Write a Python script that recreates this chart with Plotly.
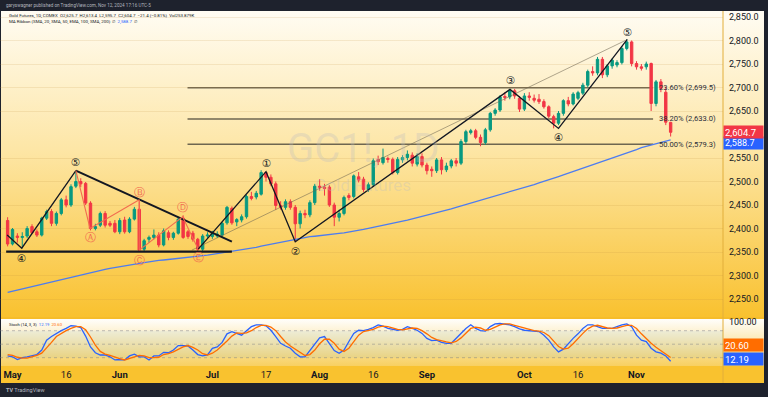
import base64
import pandas as pd
import plotly.graph_objects as go

# ---------------- data ----------------
holidays = ["2024-05-27", "2024-06-19", "2024-07-04", "2024-09-02"]
dates = [d.strftime("%Y-%m-%d") for d in pd.bdate_range("2024-04-30", "2024-11-12")
         if d.strftime("%Y-%m-%d") not in holidays]

opens = [2417, 2367, 2384, 2381, 2384, 2404, 2393, 2386, 2422, 2436,
         2411, 2432, 2461, 2450, 2490, 2500, 2496, 2454, 2400, 2407,
         2432, 2411, 2411, 2393, 2418, 2393, 2420, 2441, 2356, 2377,
         2381, 2386, 2365, 2391, 2381, 2390, 2422, 2393, 2390, 2377,
         2356, 2384, 2383, 2384, 2386, 2412, 2443, 2414, 2418, 2425,
         2468, 2467, 2473, 2519, 2509, 2495, 2449, 2445, 2457, 2445,
         2410, 2432, 2429, 2455, 2490, 2488, 2488, 2450, 2424, 2432,
         2470, 2468, 2510, 2505, 2483, 2493, 2547, 2540, 2549, 2547,
         2519, 2546, 2551, 2556, 2537, 2553, 2535, 2526, 2523, 2546,
         2525, 2533, 2544, 2539, 2585, 2604, 2608, 2594, 2583, 2610,
         2645, 2652, 2681, 2680, 2693, 2677, 2654, 2682, 2677, 2675,
         2670, 2659, 2638, 2624, 2645, 2672, 2665, 2677, 2688, 2705,
         2734, 2731, 2760, 2727, 2746, 2748, 2753, 2783, 2797, 2751,
         2744, 2744, 2751, 2666, 2712, 2690, 2625.7]
highs = [2424, 2401, 2390, 2392, 2405, 2409, 2398, 2425, 2440, 2441,
         2436, 2465, 2470, 2494, 2523, 2507, 2499, 2458, 2410, 2436,
         2437, 2416, 2418, 2422, 2425, 2424, 2446, 2458, 2378, 2385,
         2398, 2392, 2400, 2396, 2393, 2425, 2428, 2397, 2395, 2380,
         2388, 2392, 2395, 2394, 2414, 2448, 2447, 2422, 2430, 2472,
         2478, 2480, 2524, 2521, 2515, 2500, 2458, 2462, 2462, 2450,
         2438, 2440, 2460, 2495, 2505, 2495, 2492, 2455, 2440, 2470,
         2475, 2515, 2520, 2510, 2498, 2549, 2555, 2570, 2553, 2551,
         2552, 2556, 2566, 2562, 2560, 2560, 2540, 2532, 2550, 2552,
         2540, 2548, 2550, 2590, 2610, 2612, 2612, 2600, 2614, 2648,
         2656, 2684, 2690, 2697, 2697, 2682, 2688, 2690, 2685, 2686,
         2675, 2662, 2642, 2650, 2675, 2680, 2690, 2693, 2710, 2738,
         2745, 2765, 2765, 2750, 2762, 2758, 2788, 2802, 2800, 2756,
         2750, 2755, 2753, 2716, 2718, 2702, 2627]
lows = [2362, 2364, 2370, 2358, 2380, 2388, 2382, 2383, 2418, 2405,
        2406, 2428, 2445, 2446, 2486, 2488, 2450, 2396, 2396, 2403,
        2402, 2403, 2390, 2388, 2389, 2390, 2417, 2350, 2350, 2370,
        2377, 2360, 2362, 2375, 2376, 2387, 2378, 2378, 2372, 2352,
        2352, 2380, 2378, 2380, 2382, 2408, 2408, 2405, 2413, 2421,
        2460, 2462, 2470, 2500, 2490, 2440, 2440, 2440, 2440, 2372,
        2400, 2422, 2424, 2450, 2480, 2470, 2446, 2405, 2415, 2428,
        2460, 2464, 2498, 2478, 2478, 2489, 2535, 2536, 2540, 2515,
        2515, 2540, 2545, 2532, 2532, 2530, 2515, 2510, 2518, 2515,
        2520, 2528, 2532, 2535, 2580, 2600, 2590, 2575, 2578, 2606,
        2640, 2648, 2672, 2675, 2676, 2648, 2650, 2672, 2668, 2665,
        2655, 2635, 2613, 2620, 2640, 2660, 2662, 2673, 2684, 2700,
        2725, 2726, 2720, 2722, 2740, 2743, 2749, 2779, 2745, 2738,
        2736, 2738, 2650, 2660, 2690, 2620, 2595.7]
closes = [2367, 2398, 2381, 2383, 2400, 2391, 2386, 2422, 2436, 2411,
          2432, 2461, 2450, 2489, 2500, 2495, 2454, 2400, 2404, 2432,
          2407, 2407, 2393, 2417, 2393, 2420, 2441, 2354, 2374, 2381,
          2386, 2365, 2395, 2381, 2390, 2420, 2381, 2383, 2377, 2356,
          2384, 2386, 2390, 2388, 2411, 2445, 2412, 2419, 2425, 2468,
          2464, 2475, 2519, 2509, 2495, 2449, 2445, 2457, 2445, 2410,
          2432, 2429, 2455, 2490, 2488, 2485, 2450, 2424, 2432, 2466,
          2466, 2512, 2503, 2483, 2493, 2544, 2542, 2551, 2547, 2519,
          2547, 2551, 2558, 2539, 2553, 2535, 2523, 2523, 2546, 2525,
          2533, 2544, 2539, 2585, 2606, 2608, 2594, 2583, 2610, 2645,
          2652, 2680, 2679, 2693, 2682, 2654, 2682, 2679, 2673, 2670,
          2659, 2639, 2624, 2645, 2672, 2665, 2686, 2689, 2705, 2734,
          2731, 2760, 2727, 2746, 2758, 2753, 2783, 2797, 2751, 2744,
          2741, 2750, 2666, 2712, 2698, 2626.1, 2604.7]

ma200 = [2264, 2266.5, 2269, 2271.5, 2274, 2276.5, 2279, 2281.5, 2284, 2286.5,
         2289, 2291.5, 2294, 2296.5, 2299, 2301, 2303.5, 2306, 2308.5, 2311,
         2313, 2315, 2317, 2318.5, 2320.5, 2322, 2324, 2325.5, 2327.5, 2329,
         2331, 2332, 2333, 2334, 2335.5, 2336.5, 2337.5, 2338.5, 2339.5, 2341,
         2342, 2343.5, 2345, 2346.5, 2348, 2349.5, 2351, 2353, 2354.5, 2356,
         2358, 2360, 2362.5, 2364.5, 2367, 2369, 2371, 2373.5, 2375.5, 2378,
         2380, 2381, 2382.5, 2383.5, 2385, 2386, 2387, 2388, 2389.5, 2390.5,
         2392, 2394, 2396, 2398, 2400.5, 2402.5, 2404.5, 2406.5, 2408.5, 2411,
         2413, 2415.5, 2418, 2420.5, 2423, 2426, 2428.5, 2431, 2434, 2436.5,
         2439, 2442, 2445, 2448, 2451, 2454, 2457, 2459.5, 2462.5, 2465,
         2468, 2471, 2474.5, 2477.5, 2481, 2484, 2487, 2490.5, 2493.5, 2497,
         2500, 2503.5, 2507, 2510.5, 2514, 2517.5, 2521, 2524.5, 2528, 2531.5,
         2535, 2538.5, 2542, 2546, 2549.5, 2553, 2557, 2560.5, 2564, 2568,
         2572, 2575, 2578, 2581, 2583.5, 2586, 2588.7]

stoch_k = [24, 22, 16, 20, 22, 25, 27, 37, 59, 67,
           74, 80, 85, 91, 90, 87, 68, 44, 31, 26,
           26, 22, 15, 16, 15, 24, 28, 22, 22, 15,
           24, 24, 32, 31, 37, 47, 47, 46, 37, 27,
           24, 26, 41, 44, 54, 73, 78, 74, 70, 80,
           89, 93, 93, 91, 81, 67, 52, 46, 41, 30,
           22, 22, 36, 52, 64, 67, 52, 36, 30, 37,
           56, 74, 81, 80, 83, 87, 93, 90, 85, 83,
           81, 83, 89, 85, 81, 74, 63, 58, 59, 54,
           52, 52, 63, 76, 85, 93, 85, 80, 79, 89,
           95, 96, 95, 93, 89, 84, 81, 80, 80, 78,
           70, 59, 44, 33, 39, 52, 63, 73, 85, 93,
           93, 89, 85, 85, 85, 89, 93, 95, 89, 70,
           59, 56, 41, 33, 30, 24, 12.19]
stoch_d = [27, 25, 21, 19, 19, 22, 25, 30, 41, 54,
           67, 74, 80, 85, 89, 89, 82, 66, 48, 34,
           28, 25, 21, 18, 15, 18, 22, 25, 24, 20,
           20, 21, 27, 29, 33, 38, 44, 47, 43, 37,
           29, 26, 30, 37, 46, 57, 68, 75, 74, 75,
           80, 87, 92, 92, 88, 80, 67, 55, 46, 39,
           31, 25, 27, 37, 51, 61, 61, 52, 39, 34,
           41, 56, 70, 78, 81, 83, 88, 90, 89, 86,
           83, 82, 84, 86, 85, 80, 73, 65, 60, 57,
           55, 53, 56, 64, 75, 85, 88, 86, 81, 83,
           88, 93, 95, 95, 92, 89, 85, 82, 80, 79,
           76, 69, 58, 45, 39, 41, 51, 63, 74, 84,
           90, 92, 89, 86, 85, 86, 89, 92, 92, 85,
           73, 62, 52, 43, 35, 29, 20.6]

tick_idx = [1, 12, 23, 42, 53, 64, 75, 86, 106, 117, 129]
tick_labels = ["May", "16", "Jun", "Jul", "17", "Aug", "16", "Sep", "Oct", "16", "Nov"]
# 2,600 is hidden behind the last-price badge in the reference
price_ticks = [2250, 2300, 2350, 2400, 2450, 2500, 2550, 2650, 2700, 2750, 2800, 2850]

fib_levels = [2699.5, 2633.0, 2579.3]
fib_names = ["23.60%", "38.20%", "50.00%"]
fib_from, fib_to = 36.9, 132.4

# Elliott wave drawings (bar index, price)
old_wave_x = [-0.1, 2.9, 14.0]
old_wave_y = [2386, 2358, 2523]
tri_top_x = [14.0, 46.0]
tri_top_y = [2523, 2372]
support_x = [-0.3, 46.0]
support_y = [2350.6, 2350.6]
abcde_x = [14.0, 16.9, 27.0, 27.0, 35.9, 39.1]
abcde_y = [2523, 2400, 2461, 2354, 2425, 2356]
impulse_x = [39.1, 53.0, 59.0, 103.05, 113.0, 127.1]
impulse_y = [2356, 2521, 2372, 2696, 2613, 2802.5]
channel_x = [37.8, 126.7]
channel_y = [2354, 2800]

wave_labels = ["④", "⑤", "①", "②", "③", "④", "⑤"]
wave_lab_x = [2.9, 14.0, 53.0, 59.0, 103.05, 113.0, 127.1]
wave_lab_y = [2338, 2541, 2539, 2352, 2715, 2594, 2819]
corr_labels = ["Ⓐ", "Ⓑ", "Ⓒ", "Ⓓ", "Ⓔ"]
corr_lab_x = [16.9, 27.0, 27.0, 35.9, 39.1]
corr_lab_y = [2381, 2477, 2334, 2445, 2339]

last_price = 2604.7
last_ma = 2588.7
last_k, last_d = 12.19, 20.60

# ---------------- geometry helpers ----------------
W, H = 768, 397
FONT = "Roboto, 'Liberation Sans', sans-serif"
TXT = "#131722"


def py(pix):  # pixel y -> paper y
    return 1 - pix / H


x_idx = list(range(len(closes)))
x_range = [-1.564, 146.74]
x_dom = [0, 723 / W]

svg = f'''<svg xmlns="http://www.w3.org/2000/svg" width="{W}" height="{H}" viewBox="0 0 {W} {H}" preserveAspectRatio="none">
<defs>
<linearGradient id="g1" x1="0" y1="0" x2="0" y2="1">
<stop offset="0" stop-color="#FFFCF3"/><stop offset="0.45" stop-color="#FDE6A6"/><stop offset="1" stop-color="#F9C12E"/>
</linearGradient>
<linearGradient id="g2" x1="0" y1="0" x2="0" y2="1">
<stop offset="0" stop-color="#FFFFFF"/><stop offset="1" stop-color="#F8D061"/>
</linearGradient>
</defs>
<rect x="0" y="0" width="{W}" height="{H}" fill="#1E222D"/>
<rect x="1" y="11" width="763" height="307" fill="url(#g1)"/>
<rect x="1" y="318" width="763" height="48" fill="url(#g2)"/>
<rect x="1" y="366" width="763" height="17" fill="#F9C22F"/>
<rect x="1" y="317" width="763" height="2" fill="#F6BC2A"/>
<line x1="723" y1="11" x2="723" y2="383" stroke="#E2AE3A" stroke-width="1"/>
</svg>'''
bg_src = "data:image/svg+xml;base64," + base64.b64encode(svg.encode()).decode()

fig = go.Figure()

fig.add_trace(go.Candlestick(
    x=x_idx, open=opens, high=highs, low=lows, close=closes,
    increasing=dict(line=dict(color="#089981", width=1), fillcolor="#089981"),
    decreasing=dict(line=dict(color="#F23645", width=1), fillcolor="#F23645"),
    whiskerwidth=0, hoverinfo="skip", showlegend=False, xaxis="x", yaxis="y"))

fig.add_trace(go.Scatter(x=x_idx, y=ma200, mode="lines",
                         line=dict(color="#4D7CF0", width=1.3),
                         hoverinfo="skip", showlegend=False, xaxis="x", yaxis="y"))

black = "#131722"
fig.add_trace(go.Scatter(x=channel_x, y=channel_y, mode="lines",
                         line=dict(color="rgba(110,100,80,0.55)", width=1),
                         hoverinfo="skip", showlegend=False))
fig.add_trace(go.Scatter(x=old_wave_x, y=old_wave_y, mode="lines",
                         line=dict(color=black, width=1.3), hoverinfo="skip", showlegend=False))
fig.add_trace(go.Scatter(x=tri_top_x, y=tri_top_y, mode="lines",
                         line=dict(color=black, width=2), hoverinfo="skip", showlegend=False))
fig.add_trace(go.Scatter(x=support_x, y=support_y, mode="lines",
                         line=dict(color=black, width=2.2), hoverinfo="skip", showlegend=False))
fig.add_trace(go.Scatter(x=abcde_x, y=abcde_y, mode="lines",
                         line=dict(color="#F26B4F", width=1.1), hoverinfo="skip", showlegend=False))
fig.add_trace(go.Scatter(x=impulse_x, y=impulse_y, mode="lines",
                         line=dict(color=black, width=1.3), hoverinfo="skip", showlegend=False))

# stochastic
fig.add_trace(go.Scatter(x=x_idx, y=stoch_k, mode="lines", line=dict(color="#2962FF", width=1.3),
                         hoverinfo="skip", showlegend=False, xaxis="x2", yaxis="y2"))
fig.add_trace(go.Scatter(x=x_idx, y=stoch_d, mode="lines", line=dict(color="#FF6D00", width=1.3),
                         hoverinfo="skip", showlegend=False, xaxis="x2", yaxis="y2"))

shapes = []
for lv in fib_levels:
    shapes.append(dict(type="line", xref="x", yref="y", x0=fib_from, x1=fib_to, y0=lv, y1=lv,
                       line=dict(color="#6E6650", width=1.6), layer="below"))
shapes.append(dict(type="rect", xref="x2", yref="y2", x0=x_range[0], x1=x_range[1], y0=20, y1=80,
                   fillcolor="rgba(33,150,243,0.07)", line=dict(width=0), layer="below"))
for lv in (80, 50, 20):
    shapes.append(dict(type="line", xref="x2", yref="y2", x0=x_range[0], x1=x_range[1], y0=lv, y1=lv,
                       line=dict(color="rgba(120,123,134,0.45)", width=1, dash="dot"), layer="below"))

ann = []
# header texts
ann.append(dict(xref="paper", yref="paper", x=4 / W, y=py(5.5), xanchor="left", yanchor="middle",
                text="garyswagner published on TradingView.com, Nov 12, 2024 17:16 UTC-5",
                showarrow=False, font=dict(size=4.6, color="#B2B5BE", family=FONT)))
ann.append(dict(xref="paper", yref="paper", x=7 / W, y=py(15.5), xanchor="left", yanchor="middle",
                text="Gold Futures, 1D, COMEX  O2,625.7  H2,613.4  L2,595.7  C2,604.7  −21.4 (−0.81%)  Vol253.879K",
                showarrow=False, font=dict(size=4.4, color=TXT, family=FONT)))
ann.append(dict(xref="paper", yref="paper", x=7 / W, y=py(21.8), xanchor="left", yanchor="middle",
                text="MA Ribbon (SMA, 20, SMA, 50, EMA, 100, SMA, 200)  ∅  <span style='color:#2962FF'>2,588.7</span>  ∅",
                showarrow=False, font=dict(size=4.4, color=TXT, family=FONT)))
ann.append(dict(xref="paper", yref="paper", x=7 / W, y=py(324.5), xanchor="left", yanchor="middle",
                text="Stoch (14, 3, 3)  <span style='color:#2962FF'>12.19</span>  <span style='color:#FF6D00'>20.60</span>",
                showarrow=False, font=dict(size=4.2, color=TXT, family=FONT)))
# watermark
ann.append(dict(xref="paper", yref="paper", x=363 / W, y=py(148), xanchor="center", yanchor="middle",
                text="GC1!, 1D", showarrow=False,
                font=dict(size=40, color="rgba(190,190,190,0.33)", family=FONT)))
ann.append(dict(xref="paper", yref="paper", x=363 / W, y=py(185), xanchor="center", yanchor="middle",
                text="Gold Futures", showarrow=False,
                font=dict(size=17, color="rgba(190,190,190,0.33)", family=FONT)))
# bottom logo
ann.append(dict(xref="paper", yref="paper", x=4 / W, y=py(390), xanchor="left", yanchor="middle",
                text="<b>TV</b> TradingView", showarrow=False,
                font=dict(size=5.5, color="#B2B5BE", family=FONT)))
# fib labels
for lv, nm in zip(fib_levels, fib_names):
    ann.append(dict(xref="paper", yref="y", x=718 / W, y=lv, xanchor="right", yanchor="middle",
                    text=f"{nm} ({lv:,.1f})", showarrow=False,
                    font=dict(size=7.6, color="#2A2E39", family=FONT)))
# wave labels
for t, xx, yy in zip(wave_labels, wave_lab_x, wave_lab_y):
    ann.append(dict(xref="x", yref="y", x=xx, y=yy, text=t, showarrow=False,
                    font=dict(size=10.5, color=black, family="DejaVu Sans")))
for t, xx, yy in zip(corr_labels, corr_lab_x, corr_lab_y):
    ann.append(dict(xref="x", yref="y", x=xx, y=yy, text=t, showarrow=False,
                    font=dict(size=10.5, color="#F26B4F", family="DejaVu Sans")))
# price badges (the MA badge sits partly behind the last-price badge, as in the reference)
ann.append(dict(xref="paper", yref="paper", x=723 / W, y=py(142.5), xanchor="left", yanchor="middle",
                text=f"{last_ma:,.1f}", showarrow=False, bgcolor="#2962FF", width=37, height=10,
                align="left", borderpad=1, font=dict(size=9, color="white", family=FONT)))
ann.append(dict(xref="paper", yref="y", x=723 / W, y=last_price, xanchor="left", yanchor="middle",
                text=f"{last_price:,.1f}", showarrow=False, bgcolor="#F23645", width=37, height=10,
                align="left", borderpad=1, font=dict(size=9.5, color="white", family=FONT)))
ann.append(dict(xref="paper", yref="paper", x=723 / W, y=py(344.7), xanchor="left", yanchor="middle",
                text=f"{last_d:.2f}", showarrow=False, bgcolor="#FF6D00", width=37, height=10,
                align="left", borderpad=1, font=dict(size=9.5, color="white", family=FONT)))
ann.append(dict(xref="paper", yref="paper", x=723 / W, y=py(358.7), xanchor="left", yanchor="middle",
                text=f"{last_k:.2f}", showarrow=False, bgcolor="#2962FF", width=37, height=10,
                align="left", borderpad=1, font=dict(size=9.5, color="white", family=FONT)))

fig.update_layout(
    width=W, height=H, margin=dict(l=0, r=0, t=0, b=0),
    paper_bgcolor="#1E222D", plot_bgcolor="rgba(0,0,0,0)",
    font=dict(family=FONT, color=TXT),
    showlegend=False, hovermode=False,
    images=[dict(source=bg_src, xref="paper", yref="paper", x=0, y=1, sizex=1, sizey=1,
                 xanchor="left", yanchor="top", sizing="stretch", layer="below")],
    xaxis=dict(domain=x_dom, range=x_range, anchor="y", showticklabels=False, showgrid=False,
               zeroline=False, showline=False, rangeslider=dict(visible=False), fixedrange=True),
    yaxis=dict(domain=[py(318), py(11)], range=[2209.57, 2862.77], side="right", anchor="x",
               tickvals=price_ticks, ticktext=[f"{v:,.1f}" for v in price_ticks],
               tickfont=dict(size=9, color=TXT, family=FONT), ticks="", ticklabelstandoff=5,
               showgrid=True, gridcolor="rgba(190,140,60,0.16)", gridwidth=1,
               zeroline=False, showline=False, fixedrange=True),
    xaxis2=dict(domain=x_dom, range=x_range, anchor="y2", tickvals=tick_idx,
                ticktext=[f"<b>{t}</b>" if t.isalpha() else t for t in tick_labels],
                tickfont=dict(size=9.5, color=TXT, family=FONT), ticks="", ticklabelstandoff=1,
                showgrid=False, zeroline=False, showline=False, fixedrange=True),
    yaxis2=dict(domain=[py(366), py(318)], range=[1.56, 108.2], side="right", anchor="x2",
                tickvals=[100], ticktext=["100.00"], tickfont=dict(size=9, color=TXT, family=FONT),
                ticks="", ticklabelstandoff=5, showgrid=False, zeroline=False, showline=False,
                fixedrange=True),
    shapes=shapes, annotations=ann,
)

fig.write_html("out.html", include_plotlyjs=True,
               config={"displayModeBar": False, "staticPlot": True},
               post_script="document.body.style.margin='0';document.body.style.overflow='hidden';")
